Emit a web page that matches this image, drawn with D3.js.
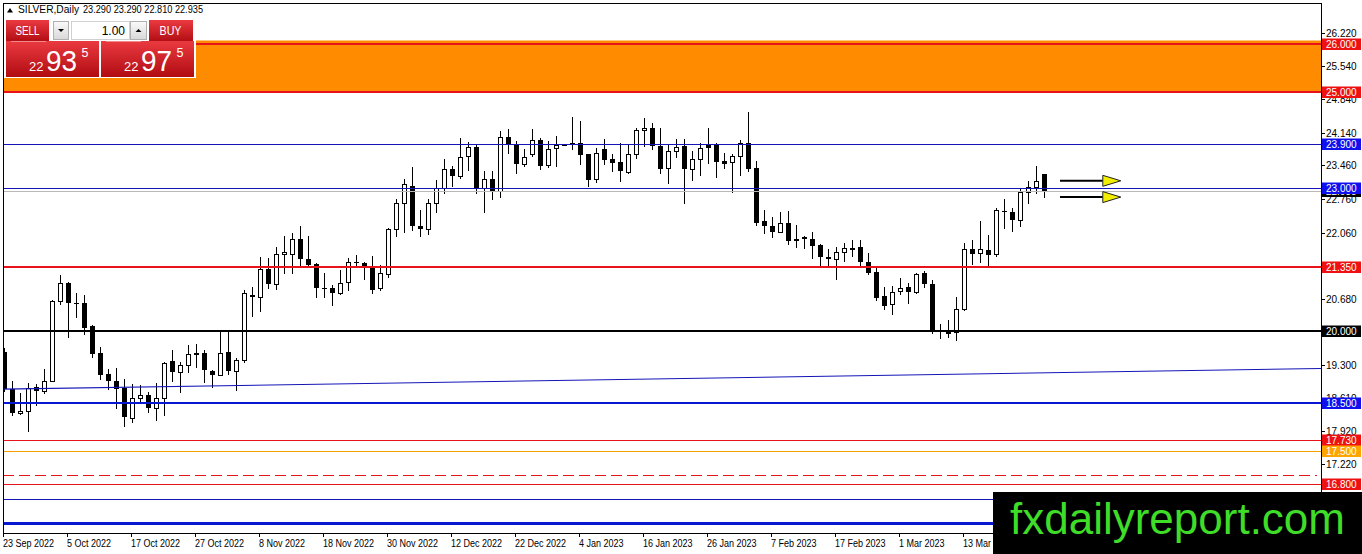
<!DOCTYPE html>
<html><head><meta charset="utf-8">
<script src="https://cdn.jsdelivr.net/npm/d3@7"></script>
<style>
html,body{margin:0;padding:0;background:#fff;overflow:hidden}
svg{display:block}
text{font-family:"Liberation Sans",Arial,sans-serif}
</style></head><body>
<svg id="c" width="1362" height="554"></svg>
<script>
// ---------------- DATA ----------------
const symbolName = "SILVER,Daily";
const headerValues = ["23.290", "23.290", "22.810", "22.935"];

const opens = [19.57,18.80,18.29,18.34,18.84,18.76,18.97,20.64,21.00,20.58,
20.58,20.10,19.55,19.10,18.97,18.82,18.19,18.61,18.67,18.40,
18.61,19.37,19.15,19.29,19.55,19.55,19.16,19.09,19.57,19.17,
19.39,20.75,20.72,21.30,20.98,21.61,21.62,21.92,21.50,21.40,
20.90,20.90,20.79,21.03,21.45,21.42,21.34,20.90,21.19,22.14,
22.68,23.03,22.20,22.14,22.68,22.98,23.39,23.24,23.66,23.85,
23.00,23.17,22.92,24.06,23.90,23.50,23.69,23.99,23.47,23.83,
23.89,23.91,23.94,23.69,23.17,23.81,23.59,23.53,23.32,23.71,
24.20,24.25,23.86,23.41,23.76,23.86,23.39,23.59,23.88,23.88,
23.55,23.54,23.66,23.92,23.40,22.31,22.20,22.08,22.26,21.93,
21.94,21.93,21.80,21.55,21.50,21.66,21.73,21.75,21.44,21.23,
20.73,20.56,20.84,20.92,20.81,21.21,20.98,20.00,19.99,19.99,
20.46,21.71,21.63,21.70,21.61,22.51,22.49,22.32,22.91,23.01,
23.29];
const highs = [19.65,18.97,18.71,18.92,18.90,19.22,20.66,21.17,21.02,20.79,
20.76,20.13,19.67,19.22,19.24,19.01,18.89,18.87,18.74,18.92,
19.35,19.60,19.36,19.71,19.74,19.60,19.20,19.99,20.01,19.43,
20.85,20.93,21.55,21.53,21.76,21.99,22.05,22.19,21.99,21.42,
21.21,20.97,21.28,21.53,21.59,21.45,21.56,21.38,22.15,22.75,
23.18,23.43,22.54,22.75,23.15,23.60,23.45,24.04,23.95,23.88,
23.34,23.34,24.18,24.22,23.97,23.81,24.22,24.03,23.97,24.08,
23.91,24.48,24.39,23.70,23.83,24.02,23.70,23.93,23.88,24.25,
24.46,24.34,24.25,23.88,24.02,24.02,23.76,23.94,24.24,23.94,
23.73,23.70,23.99,24.57,23.55,22.54,22.38,22.48,22.52,22.22,
21.99,22.07,21.82,21.72,21.75,21.85,21.91,21.91,21.63,21.35,
20.93,20.94,21.11,21.00,21.22,21.26,21.07,20.16,20.23,20.72,
21.84,21.91,22.31,22.00,22.57,22.75,22.58,23.00,23.13,23.45,
23.29];
const lows = [18.75,18.26,18.28,17.92,18.45,18.71,18.95,20.56,19.88,20.30,
19.95,19.46,19.01,18.80,18.39,18.03,18.10,18.50,18.31,18.15,
18.24,18.95,18.73,19.15,19.25,18.94,18.83,19.08,19.11,18.78,
19.36,20.32,20.43,20.90,20.88,21.21,21.21,21.35,21.35,20.71,
20.72,20.55,20.78,20.85,21.38,21.10,20.80,20.85,21.14,21.98,
22.08,22.12,21.98,22.03,22.48,22.89,23.03,23.20,23.36,22.89,
22.48,22.75,22.80,23.73,23.31,23.44,23.66,23.38,23.43,23.45,
23.89,23.81,23.50,23.03,23.11,23.50,23.34,23.13,23.31,23.62,
23.86,23.81,23.31,23.10,23.64,22.68,23.15,23.27,23.52,23.22,
23.41,22.91,23.27,23.34,22.21,22.05,21.96,22.07,21.82,21.75,
21.74,21.52,21.34,21.35,21.10,21.47,21.56,21.37,21.19,20.65,
20.47,20.35,20.77,20.59,20.79,20.93,19.96,19.85,19.88,19.81,
20.44,21.41,21.45,21.38,21.56,22.15,22.09,22.19,22.68,22.89,
22.81];
const closes = [18.80,18.29,18.34,18.82,18.76,18.97,20.64,21.00,20.58,20.57,
20.07,19.53,19.09,18.96,18.80,18.20,18.61,18.67,18.40,18.61,
19.34,19.15,19.29,19.53,19.51,19.20,19.09,19.55,19.17,19.39,
20.79,20.72,21.29,20.99,21.61,21.66,21.92,21.50,21.38,20.90,
20.89,20.79,21.01,21.45,21.44,21.36,20.86,21.21,22.14,22.68,
23.08,22.19,22.13,22.68,22.98,23.39,23.24,23.64,23.85,22.99,
23.17,22.90,24.06,23.88,23.50,23.64,23.99,23.45,23.81,23.88,
23.90,23.92,23.68,23.15,23.73,23.57,23.52,23.34,23.69,24.20,
24.25,23.86,23.38,23.76,23.85,23.39,23.60,23.83,23.83,23.53,
23.50,23.66,23.92,23.38,22.26,22.19,22.08,22.26,21.89,21.89,
21.96,21.77,21.54,21.50,21.66,21.73,21.74,21.44,21.22,20.69,
20.53,20.82,20.91,20.81,21.19,20.98,19.99,19.98,19.99,20.46,
21.71,21.61,21.71,21.59,22.54,22.49,22.32,22.91,23.01,23.14,
22.935];

const dateLabels = ["23 Sep 2022","5 Oct 2022","17 Oct 2022","27 Oct 2022","8 Nov 2022",
"18 Nov 2022","30 Nov 2022","12 Dec 2022","22 Dec 2022","4 Jan 2023","16 Jan 2023",
"26 Jan 2023","7 Feb 2023","17 Feb 2023","1 Mar 2023","13 Mar 2023"];
const barsPerDateLabel = 8;

const priceTicks = [26.22,25.54,24.84,24.14,23.46,22.76,22.06,20.68,19.30,18.61,17.92,17.22];

const levelPrices = [26.0, 25.0, 23.9, 23.0, 21.35, 20.0, 18.5, 17.73, 17.5, 17.0, 16.8, 16.5, 16.0];
const levelLabelShown = [true, true, true, true, true, true, true, true, true, false, true, false, false];

const zoneLow = 25.0, zoneHigh = 26.07;
const trendBars = [0, 130];
const trendPrices = [18.79, 19.13];
const bidPrice = 22.935;
const arrowPrices = [23.14, 22.80];
const arrowBars = [132, 139.6];

const lotSize = "1.00";
const bidQuote = ["22", "93", "5"];
const askQuote = ["22", "97", "5"];
const watermark = "fxdailyreport.com";

// ---------------- STYLES ----------------
const RED = "#e8121a", BLUE_THIN = "#1414b8", BLUE_THICK = "#0818d0", ORANGE = "#ffa500";
const levelStyle = [
  {c: RED, w: 2, lab: "#ee1111"},
  {c: RED, w: 2, lab: "#ee1111"},
  {c: BLUE_THIN, w: 1, lab: "#1010ee"},
  {c: BLUE_THIN, w: 1, lab: "#1010ee"},
  {c: RED, w: 2, lab: "#ee1111"},
  {c: "#000", w: 2, lab: "#000"},
  {c: BLUE_THICK, w: 2, lab: "#1010ee"},
  {c: RED, w: 1, lab: "#ee1111"},
  {c: "#f5a000", w: 1, lab: ORANGE},
  {c: RED, w: 1, dash: "11,5", lab: null},
  {c: RED, w: 1, lab: "#ee1111"},
  {c: BLUE_THIN, w: 1, lab: null},
  {c: BLUE_THICK, w: 3, lab: null}
];

// ---------------- SETUP ----------------
const W = 1362, H = 554;
const L = 3, R = 1321, T = 3, B = 533;
const svg = d3.select("#c");
const x = d3.scaleLinear().domain([0, 130]).range([4, 1044]);
const y = d3.scaleLinear().domain([15.786, 26.853]).range([B, T]);
const fmt = d3.format(".3f");
const py = p => Math.round(y(p));

const defs = svg.append("defs");
defs.append("clipPath").attr("id", "plotClip").append("rect")
  .attr("x", L).attr("y", T).attr("width", R - L).attr("height", B - T);
const gr = defs.append("linearGradient").attr("id", "redGrad").attr("x1", 0).attr("x2", 0).attr("y1", 0).attr("y2", 1);
gr.append("stop").attr("offset", "0%").attr("stop-color", "#ea3a40");
gr.append("stop").attr("offset", "100%").attr("stop-color", "#b00c12");
const gg = defs.append("linearGradient").attr("id", "greyGrad").attr("x1", 0).attr("x2", 0).attr("y1", 0).attr("y2", 1);
gg.append("stop").attr("offset", "0%").attr("stop-color", "#fafafa");
gg.append("stop").attr("offset", "100%").attr("stop-color", "#d8d8d8");

svg.append("rect").attr("width", W).attr("height", H).attr("fill", "#fff");

const plot = svg.append("g").attr("clip-path", "url(#plotClip)");

// zone
plot.append("rect").attr("x", L).attr("width", R - L)
  .attr("y", y(zoneHigh)).attr("height", y(zoneLow) - y(zoneHigh))
  .attr("fill", "#ff8c00");

// candles
const bars = d3.range(opens.length).map(i => ({i, o: opens[i], h: highs[i], l: lows[i], c: closes[i]}));
const cg = plot.append("g").attr("shape-rendering", "crispEdges");
cg.selectAll("line").data(bars).join("line")
  .attr("x1", d => Math.round(x(d.i)) + 0.5).attr("x2", d => Math.round(x(d.i)) + 0.5)
  .attr("y1", d => py(d.h)).attr("y2", d => py(d.l) + 1)
  .attr("stroke", "#000").attr("stroke-width", 1);
cg.selectAll("rect").data(bars).join("rect")
  .each(function(d) {
    const cx = Math.round(x(d.i));
    const top = py(Math.max(d.o, d.c)), bot = py(Math.min(d.o, d.c));
    const bull = d.c >= d.o;
    const s = d3.select(this);
    if (bull) {
      s.attr("x", cx - 1.5).attr("width", 4).attr("y", top + 0.5).attr("height", Math.max(bot - top, 1))
       .attr("fill", "#fff").attr("stroke", "#000").attr("stroke-width", 1);
    } else {
      s.attr("x", cx - 2).attr("width", 5).attr("y", top).attr("height", Math.max(bot - top, 1))
       .attr("fill", "#000");
    }
  });

// level lines
const lg = plot.append("g");
levelPrices.forEach((p, k) => {
  const st = levelStyle[k];
  const yy = st.w % 2 ? py(p) + 0.5 : py(p);
  lg.append("line").attr("x1", L).attr("x2", st.dash ? R - 4 : R)
    .attr("y1", yy).attr("y2", yy)
    .attr("stroke", st.c).attr("stroke-width", st.w)
    .attr("stroke-dasharray", st.dash || null)
    .attr("shape-rendering", "crispEdges");
});
// bid line
lg.append("line").attr("x1", L).attr("x2", R).attr("y1", py(bidPrice) + 0.5).attr("y2", py(bidPrice) + 0.5)
  .attr("stroke", "#b8b8b8").attr("stroke-width", 1).attr("shape-rendering", "crispEdges");
// trend line extended to right edge
const slope = (trendPrices[1] - trendPrices[0]) / (trendBars[1] - trendBars[0]);
const iL = x.invert(L), iR = x.invert(R);
lg.append("line")
  .attr("x1", L).attr("y1", y(trendPrices[0] + slope * (iL - trendBars[0])))
  .attr("x2", R).attr("y2", y(trendPrices[0] + slope * (iR - trendBars[0])))
  .attr("stroke", BLUE_THIN).attr("stroke-width", 1.1);

// arrows
arrowPrices.forEach(p => {
  const yy = y(p), x0 = x(arrowBars[0]), x1 = x(arrowBars[1]);
  const hx = x1 - 18;
  plot.append("line").attr("x1", x0).attr("x2", hx).attr("y1", yy).attr("y2", yy)
    .attr("stroke", "#000").attr("stroke-width", 2);
  plot.append("path").attr("d", `M${hx},${yy - 5.5}L${x1},${yy}L${hx},${yy + 5.5}Z`)
    .attr("fill", "#f2ee00").attr("stroke", "#222").attr("stroke-width", 1);
});

// ---------- trade widget ----------
const wg = svg.append("g");
wg.append("rect").attr("x", 3).attr("y", 17).attr("width", 193).attr("height", 61).attr("fill", "#fff");
wg.append("rect").attr("x", 6).attr("y", 20).attr("width", 43).attr("height", 22).attr("fill", "url(#redGrad)");
wg.append("text").attr("x", 27.5).attr("y", 35).attr("text-anchor", "middle").attr("fill", "#fff")
  .attr("font-size", 12).attr("textLength", 24).attr("lengthAdjust", "spacingAndGlyphs").text("SELL");
wg.append("rect").attr("x", 149).attr("y", 20).attr("width", 44).attr("height", 22).attr("fill", "url(#redGrad)");
wg.append("text").attr("x", 170.5).attr("y", 35).attr("text-anchor", "middle").attr("fill", "#fff")
  .attr("font-size", 12).attr("textLength", 22).attr("lengthAdjust", "spacingAndGlyphs").text("BUY");
wg.append("rect").attr("x", 53.5).attr("y", 21.5).attr("width", 15).attr("height", 18).attr("fill", "url(#greyGrad)").attr("stroke", "#b0b0b0");
wg.append("path").attr("d", "M58,29h6l-3,3z").attr("fill", "#000");
wg.append("rect").attr("x", 71.5).attr("y", 21.5).attr("width", 58).attr("height", 18).attr("fill", "#fff").attr("stroke", "#d0d0d0");
wg.append("text").attr("x", 125).attr("y", 35).attr("text-anchor", "end").attr("fill", "#000").attr("font-size", 12).text(lotSize);
wg.append("rect").attr("x", 130.5).attr("y", 21.5).attr("width", 16).attr("height", 18).attr("fill", "url(#greyGrad)").attr("stroke", "#b0b0b0");
wg.append("path").attr("d", "M135.5,32h6l-3,-3z").attr("fill", "#000");
[[6, bidQuote], [101, askQuote]].forEach(([px, q]) => {
  wg.append("rect").attr("x", px).attr("y", 41).attr("width", 93).attr("height", 36).attr("fill", "url(#redGrad)");
  wg.append("line").attr("x1", px + 5).attr("x2", px + 40).attr("y1", 41.5).attr("y2", 41.5).attr("stroke", "#f08a8c").attr("stroke-width", 1);
  wg.append("text").attr("x", px + 23).attr("y", 70.5).attr("fill", "#fff").attr("font-size", 13).text(q[0]);
  wg.append("text").attr("x", px + 40).attr("y", 70.5).attr("fill", "#fff").attr("font-size", 29)
    .attr("textLength", 31).attr("lengthAdjust", "spacingAndGlyphs").text(q[1]);
  wg.append("text").attr("x", px + 75.5).attr("y", 57).attr("fill", "#fff").attr("font-size", 12.5).text(q[2]);
});

// ---------- frame ----------
const fg = svg.append("g").attr("shape-rendering", "crispEdges");
fg.append("line").attr("x1", L).attr("x2", L).attr("y1", T).attr("y2", B).attr("stroke", "#000");
fg.append("line").attr("x1", L).attr("x2", R).attr("y1", T).attr("y2", T).attr("stroke", "#000");
fg.append("line").attr("x1", R + 0.5).attr("x2", R + 0.5).attr("y1", T).attr("y2", B).attr("stroke", "#000");
fg.append("line").attr("x1", L).attr("x2", R).attr("y1", B + 0.5).attr("y2", B + 0.5).attr("stroke", "#000");

// price axis ticks
const ag = svg.append("g").attr("font-size", 10);
priceTicks.forEach(p => {
  const yy = py(p);
  ag.append("line").attr("x1", R).attr("x2", R + 4).attr("y1", yy + 0.5).attr("y2", yy + 0.5)
    .attr("stroke", "#000").attr("shape-rendering", "crispEdges");
  ag.append("text").attr("x", R + 5).attr("y", yy + 4).attr("fill", "#000").text(fmt(p));
});
// label boxes: bid (black) first, then levels
function labelBox(p, color, str) {
  const yy = y(p);
  ag.append("rect").attr("x", R + 1).attr("y", Math.round(yy) - 5.5).attr("width", 39).attr("height", 11.5)
    .attr("fill", color);
  ag.append("text").attr("x", R + 5).attr("y", Math.round(yy) + 4).attr("fill", "#fff").text(str);
}
labelBox(bidPrice, "#000", fmt(bidPrice));
levelPrices.forEach((p, k) => {
  if (levelLabelShown[k]) labelBox(p, levelStyle[k].lab, fmt(p));
});

// date axis
const dg = svg.append("g").attr("font-size", 10);
dateLabels.forEach((s, k) => {
  const xx = Math.round(x(k * barsPerDateLabel)) - 1;
  dg.append("line").attr("x1", xx + 0.5).attr("x2", xx + 0.5).attr("y1", B).attr("y2", B + 4)
    .attr("stroke", "#000").attr("shape-rendering", "crispEdges");
  const t = dg.append("text").attr("x", xx).attr("y", 546.5).attr("fill", "#000").text(s);
  const len = t.node().getComputedTextLength();
  t.attr("textLength", len * 0.9).attr("lengthAdjust", "spacingAndGlyphs");
});

// watermark
svg.append("rect").attr("x", 993).attr("y", 492).attr("width", W - 993).attr("height", H - 492).attr("fill", "#000");
svg.append("text").attr("x", 1010).attr("y", 534).attr("fill", "#3fdc28").attr("font-size", 45)
  .attr("textLength", 335).attr("lengthAdjust", "spacingAndGlyphs").text(watermark);

// header
const hg = svg.append("g").attr("font-size", 10).attr("fill", "#000");
hg.append("path").attr("d", "M7,12.5L10,8L13,12.5Z").attr("fill", "#000");
hg.append("text").attr("x", 18).attr("y", 13).attr("textLength", 61).attr("lengthAdjust", "spacingAndGlyphs").text(symbolName);
hg.append("text").attr("x", 83).attr("y", 13).attr("textLength", 120).attr("lengthAdjust", "spacingAndGlyphs").text(headerValues.join(" "));
</script>
</body></html>
